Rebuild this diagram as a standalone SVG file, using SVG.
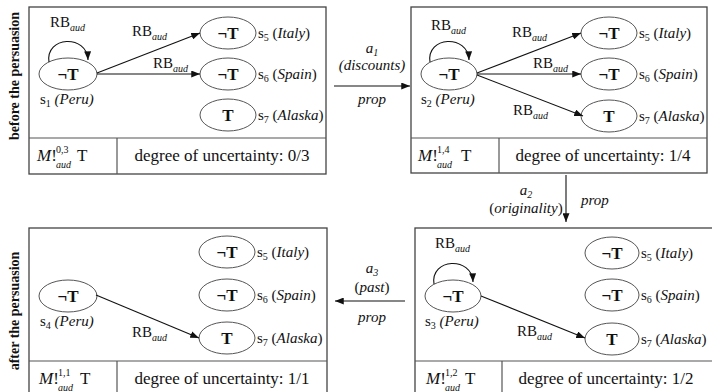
<svg xmlns="http://www.w3.org/2000/svg" width="712" height="392" viewBox="0 0 712 392" font-family="'Liberation Serif', 'Times New Roman', 'DejaVu Serif', serif">
<defs>
<marker id="ah" viewBox="0 0 10 8" refX="10" refY="4" markerWidth="9" markerHeight="7" markerUnits="userSpaceOnUse" orient="auto">
<path d="M0,0 L10,4 L0,8 Z" fill="#111"/>
</marker>
<style>
svg text, svg tspan{font-family:'Liberation Serif','Times New Roman','DejaVu Serif',serif}
text{fill:#111}
.frame{fill:#fff;stroke:#444;stroke-width:1.3}
.div{stroke:#555;stroke-width:1.2;fill:none}
.st ellipse{fill:#fff;stroke:#555;stroke-width:1}
.st text.v{font-size:17px;font-weight:bold;text-anchor:middle}
.lbl{font-size:15px}
.it{font-style:italic}
.sm{font-size:10px}
.edge{stroke:#111;stroke-width:1.1;fill:none;marker-end:url(#ah)}
.deg{font-size:17px;text-anchor:middle}
.mf{font-size:17px}
.side{font-size:14px;font-weight:bold;text-anchor:middle}
.act{font-size:15px;text-anchor:middle}
</style>
</defs>
<rect width="712" height="392" fill="#fff"/>

<text class="side" transform="translate(19,76) rotate(-90)">before the persuasion</text>
<text class="side" transform="translate(19,311) rotate(-90)">after the persuasion</text>

<!-- Panel 1 -->
<g id="panel1">
<rect class="frame" x="29" y="7" width="297" height="167"/>
<line class="div" x1="29" y1="138" x2="326" y2="138"/>
<line class="div" x1="117" y1="138" x2="117" y2="174"/>
<text class="mf" y="161"><tspan x="37" class="it">M</tspan><tspan>!</tspan></text>
<text class="sm" x="56" y="153">0,3</text>
<text class="sm it" x="56" y="168">aud</text>
<text class="mf" x="77" y="161">T</text>
<text class="deg" x="222" y="161">degree of uncertainty: 0/3</text>
<g id="p1s1" class="st"><ellipse cx="68" cy="74" rx="29" ry="16"/><text class="v" x="68" y="80">¬T</text><text class="lbl" x="40" y="104">s<tspan class="sm" dy="3">1</tspan><tspan class="it" dy="-3"> (Peru)</tspan></text></g>
<g id="p1s5" class="st"><ellipse cx="228" cy="33" rx="28" ry="16"/><text class="v" x="228" y="39">¬T</text><text class="lbl" x="258" y="38">s<tspan class="sm" dy="3">5</tspan><tspan dy="-3"> (</tspan><tspan class="it">Italy</tspan>)</text></g>
<g id="p1s6" class="st"><ellipse cx="228" cy="74" rx="28" ry="16"/><text class="v" x="228" y="80">¬T</text><text class="lbl" x="258" y="79">s<tspan class="sm" dy="3">6</tspan><tspan dy="-3"> (</tspan><tspan class="it">Spain</tspan>)</text></g>
<g id="p1s7" class="st"><ellipse cx="228" cy="115" rx="28" ry="16"/><text class="v" x="228" y="121">T</text><text class="lbl" x="258" y="120">s<tspan class="sm" dy="3">7</tspan><tspan dy="-3"> (</tspan><tspan class="it">Alaska</tspan>)</text></g>
</g>

<!-- Panel 2 -->
<g id="panel2">
<rect class="frame" x="411" y="7" width="296" height="166"/>
<line class="div" x1="411" y1="138" x2="707" y2="138"/>
<line class="div" x1="499" y1="138" x2="499" y2="173"/>
<text class="mf" y="161"><tspan x="418" class="it">M</tspan><tspan>!</tspan></text>
<text class="sm" x="437" y="153">1,4</text>
<text class="sm it" x="437" y="168">aud</text>
<text class="mf" x="461" y="161">T</text>
<text class="deg" x="603" y="161">degree of uncertainty: 1/4</text>
<g id="p2s2" class="st"><ellipse cx="449" cy="74" rx="28" ry="16"/><text class="v" x="449" y="80">¬T</text><text class="lbl" x="421" y="104">s<tspan class="sm" dy="3">2</tspan><tspan class="it" dy="-3"> (Peru)</tspan></text></g>
<g id="p2s5" class="st"><ellipse cx="609" cy="33" rx="28" ry="16"/><text class="v" x="609" y="39">¬T</text><text class="lbl" x="639" y="38">s<tspan class="sm" dy="3">5</tspan><tspan dy="-3"> (</tspan><tspan class="it">Italy</tspan>)</text></g>
<g id="p2s6" class="st"><ellipse cx="609" cy="74" rx="28" ry="16"/><text class="v" x="609" y="80">¬T</text><text class="lbl" x="639" y="79">s<tspan class="sm" dy="3">6</tspan><tspan dy="-3"> (</tspan><tspan class="it">Spain</tspan>)</text></g>
<g id="p2s7" class="st"><ellipse cx="609" cy="116" rx="28" ry="16"/><text class="v" x="609" y="122">T</text><text class="lbl" x="639" y="121">s<tspan class="sm" dy="3">7</tspan><tspan dy="-3"> (</tspan><tspan class="it">Alaska</tspan>)</text></g>
</g>

<!-- Panel 3 -->
<g id="panel3">
<rect class="frame" x="29" y="228" width="298" height="170"/>
<line class="div" x1="29" y1="361" x2="327" y2="361"/>
<line class="div" x1="117" y1="361" x2="117" y2="398"/>
<text class="mf" y="384"><tspan x="39" class="it">M</tspan><tspan>!</tspan></text>
<text class="sm" x="58" y="376">1,1</text>
<text class="sm it" x="58" y="391">aud</text>
<text class="mf" x="80" y="384">T</text>
<text class="deg" x="222" y="384">degree of uncertainty: 1/1</text>
<g id="p3s4" class="st"><ellipse cx="68" cy="296" rx="29" ry="16"/><text class="v" x="68" y="302">¬T</text><text class="lbl" x="40" y="326">s<tspan class="sm" dy="3">4</tspan><tspan class="it" dy="-3"> (Peru)</tspan></text></g>
<g id="p3s5" class="st"><ellipse cx="227" cy="252" rx="28" ry="16"/><text class="v" x="227" y="258">¬T</text><text class="lbl" x="257" y="257">s<tspan class="sm" dy="3">5</tspan><tspan dy="-3"> (</tspan><tspan class="it">Italy</tspan>)</text></g>
<g id="p3s6" class="st"><ellipse cx="227" cy="295" rx="28" ry="16"/><text class="v" x="227" y="301">¬T</text><text class="lbl" x="257" y="300">s<tspan class="sm" dy="3">6</tspan><tspan dy="-3"> (</tspan><tspan class="it">Spain</tspan>)</text></g>
<g id="p3s7" class="st"><ellipse cx="227" cy="338" rx="28" ry="16"/><text class="v" x="227" y="344">T</text><text class="lbl" x="257" y="343">s<tspan class="sm" dy="3">7</tspan><tspan dy="-3"> (</tspan><tspan class="it">Alaska</tspan>)</text></g>
</g>

<!-- Panel 4 -->
<g id="panel4">
<rect class="frame" x="415" y="228" width="300" height="170"/>
<line class="div" x1="415" y1="361" x2="712" y2="361"/>
<line class="div" x1="502" y1="361" x2="502" y2="398"/>
<text class="mf" y="384"><tspan x="426" class="it">M</tspan><tspan>!</tspan></text>
<text class="sm" x="445" y="376">1,2</text>
<text class="sm it" x="445" y="391">aud</text>
<text class="mf" x="465" y="384">T</text>
<text class="deg" x="606" y="384">degree of uncertainty: 1/2</text>
<g id="p4s3" class="st"><ellipse cx="453" cy="296" rx="28" ry="16"/><text class="v" x="453" y="302">¬T</text><text class="lbl" x="425" y="326">s<tspan class="sm" dy="3">3</tspan><tspan class="it" dy="-3"> (Peru)</tspan></text></g>
<g id="p4s5" class="st"><ellipse cx="612" cy="253" rx="27" ry="16"/><text class="v" x="612" y="259">¬T</text><text class="lbl" x="641" y="258">s<tspan class="sm" dy="3">5</tspan><tspan dy="-3"> (</tspan><tspan class="it">Italy</tspan>)</text></g>
<g id="p4s6" class="st"><ellipse cx="612" cy="295" rx="27" ry="16"/><text class="v" x="612" y="301">¬T</text><text class="lbl" x="641" y="300">s<tspan class="sm" dy="3">6</tspan><tspan dy="-3"> (</tspan><tspan class="it">Spain</tspan>)</text></g>
<g id="p4s7" class="st"><ellipse cx="612" cy="339" rx="27" ry="16"/><text class="v" x="612" y="345">T</text><text class="lbl" x="641" y="344">s<tspan class="sm" dy="3">7</tspan><tspan dy="-3"> (</tspan><tspan class="it">Alaska</tspan>)</text></g>
</g>

<!-- Connectors -->
<g id="connectors">
<path class="edge" d="M49,62 C45,36 87,34 88,60"/>
<line class="edge" x1="97" y1="73" x2="200" y2="33"/>
<line class="edge" x1="97" y1="74" x2="200" y2="74"/>
<path class="edge" d="M430,62 C426,36 468,34 469,60"/>
<line class="edge" x1="477" y1="73" x2="581" y2="33"/>
<line class="edge" x1="477" y1="74" x2="581" y2="74"/>
<line class="edge" x1="477" y1="75" x2="583" y2="116"/>
<line class="edge" x1="96" y1="295" x2="199" y2="338"/>
<path class="edge" d="M434,284 C430,258 472,256 473,282"/>
<line class="edge" x1="481" y1="296" x2="585" y2="338"/>
<line class="edge" x1="334" y1="86" x2="410" y2="86"/>
<line class="edge" x1="566" y1="175" x2="566" y2="222"/>
<line class="edge" x1="405" y1="301" x2="335" y2="301"/>

<g class="lbl">
<text x="50" y="27">RB<tspan class="sm it" dy="4">aud</tspan></text>
<text x="132" y="36">RB<tspan class="sm it" dy="4">aud</tspan></text>
<text x="153" y="68">RB<tspan class="sm it" dy="4">aud</tspan></text>
<text x="431" y="30">RB<tspan class="sm it" dy="4">aud</tspan></text>
<text x="512" y="37">RB<tspan class="sm it" dy="4">aud</tspan></text>
<text x="533" y="68">RB<tspan class="sm it" dy="4">aud</tspan></text>
<text x="513" y="115">RB<tspan class="sm it" dy="4">aud</tspan></text>
<text x="132" y="337">RB<tspan class="sm it" dy="4">aud</tspan></text>
<text x="435" y="248">RB<tspan class="sm it" dy="4">aud</tspan></text>
<text x="517" y="336">RB<tspan class="sm it" dy="4">aud</tspan></text>
</g>
<text class="act it" x="372" y="53">a<tspan class="sm" dy="3">1</tspan></text>
<text class="act it" x="372" y="70">(discounts)</text>
<text class="act it" x="372" y="104">prop</text>
<text class="act it" x="526" y="195">a<tspan class="sm" dy="3">2</tspan></text>
<text class="act" x="526" y="213">(<tspan class="it">originality</tspan>)</text>
<text class="lbl it" x="581" y="205">prop</text>
<text class="act it" x="372" y="273">a<tspan class="sm" dy="3">3</tspan></text>
<text class="act" x="372" y="292">(<tspan class="it">past</tspan>)</text>
<text class="act it" x="372" y="322">prop</text>
</g>
</svg>
